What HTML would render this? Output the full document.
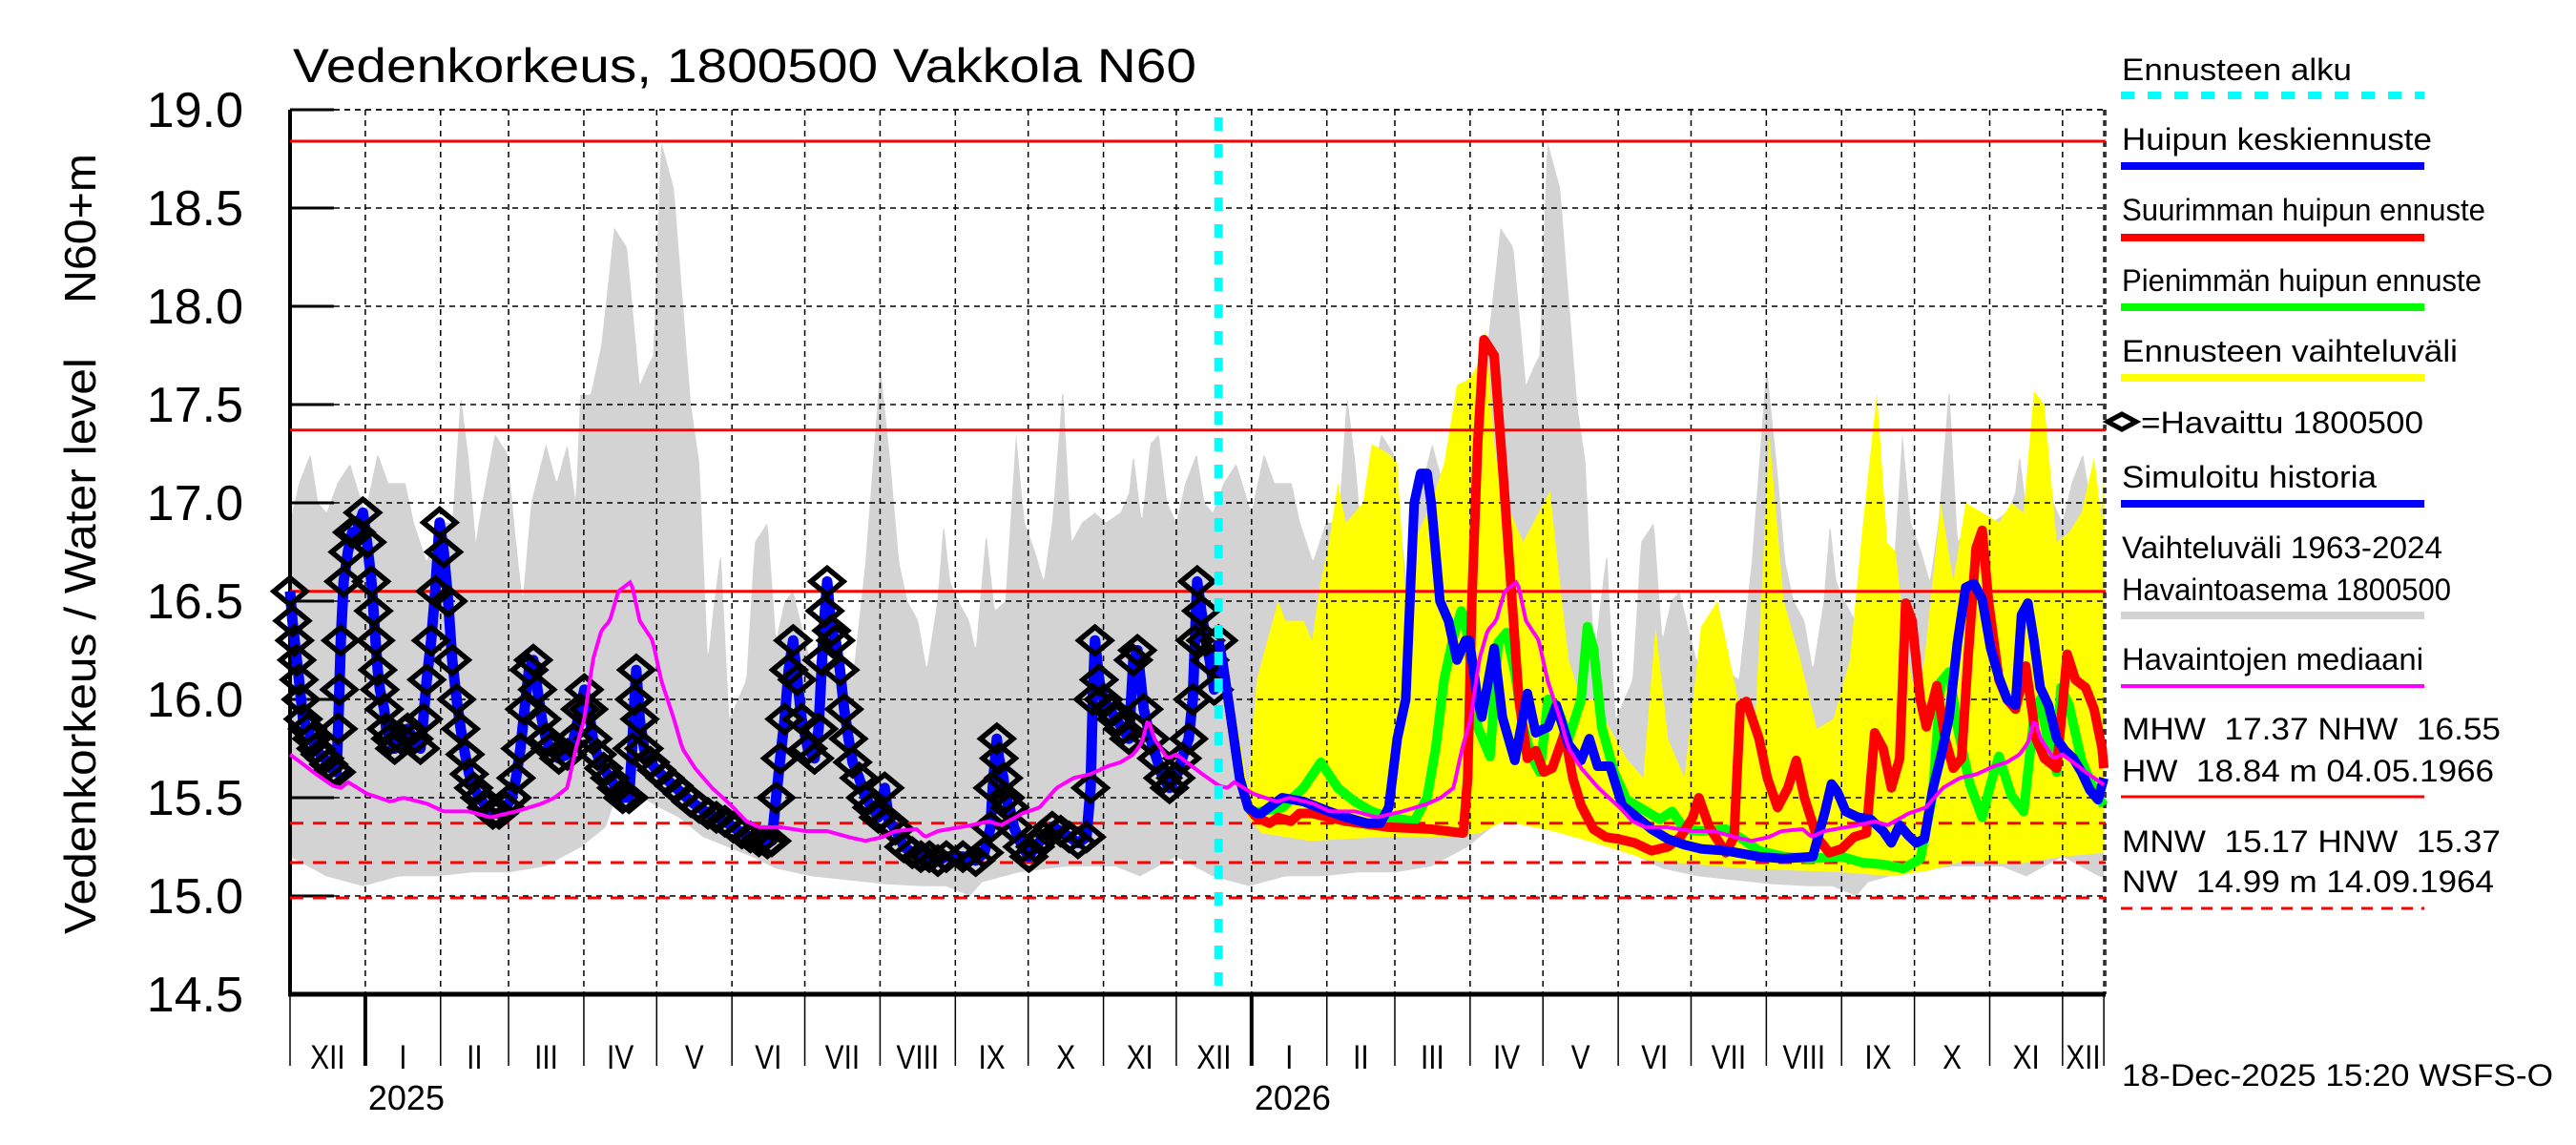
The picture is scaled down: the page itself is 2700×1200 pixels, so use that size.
<!DOCTYPE html>
<html><head><meta charset="utf-8"><style>
html,body{margin:0;padding:0;background:#fff;}
svg{display:block;font-family:"Liberation Sans",Arial,sans-serif;}
</style></head><body>
<svg id="chart" xmlns="http://www.w3.org/2000/svg" width="2700" height="1200" viewBox="0 0 2700 1200">
<rect x="0" y="0" width="2700" height="1200" fill="#fff"/>
<g id="layers"></g>
<text x="307" y="86" font-size="50" textLength="947" lengthAdjust="spacingAndGlyphs">Vedenkorkeus, 1800500 Vakkola N60</text>
<text transform="translate(100,979) rotate(-90)" font-size="46" textLength="604" lengthAdjust="spacingAndGlyphs">Vedenkorkeus / Water level</text>
<text transform="translate(100,318) rotate(-90)" font-size="46" textLength="157" lengthAdjust="spacingAndGlyphs">N60+m</text>
<g id="legend">
<text x="2224" y="84" font-size="32" textLength="241" lengthAdjust="spacingAndGlyphs">Ennusteen alku</text>
<line x1="2223" y1="100" x2="2541" y2="100" stroke="#00ffff" stroke-width="8" stroke-dasharray="14 14"/>
<text x="2224" y="157" font-size="32" textLength="325" lengthAdjust="spacingAndGlyphs">Huipun keskiennuste</text>
<line x1="2223" y1="174" x2="2541" y2="174" stroke="#0000ff" stroke-width="8"/>
<text x="2224" y="231" font-size="32" textLength="381" lengthAdjust="spacingAndGlyphs">Suurimman huipun ennuste</text>
<line x1="2223" y1="249" x2="2541" y2="249" stroke="#ff0000" stroke-width="8"/>
<text x="2224" y="305" font-size="32" textLength="377" lengthAdjust="spacingAndGlyphs">Pienimmän huipun ennuste</text>
<line x1="2223" y1="322" x2="2541" y2="322" stroke="#00ff00" stroke-width="8"/>
<text x="2224" y="379" font-size="32" textLength="352" lengthAdjust="spacingAndGlyphs">Ennusteen vaihteluväli</text>
<line x1="2223" y1="396" x2="2541" y2="396" stroke="#ffff00" stroke-width="8"/>
<polygon points="2209,442 2224,434 2239,442 2224,450" fill="none" stroke="#000" stroke-width="5"/>
<text x="2244" y="454" font-size="32" textLength="296" lengthAdjust="spacingAndGlyphs">=Havaittu 1800500</text>
<text x="2224" y="511" font-size="32" textLength="267" lengthAdjust="spacingAndGlyphs">Simuloitu historia</text>
<line x1="2223" y1="528" x2="2541" y2="528" stroke="#0000ff" stroke-width="8"/>
<text x="2224" y="585" font-size="32" textLength="336" lengthAdjust="spacingAndGlyphs">Vaihteluväli 1963-2024</text>
<text x="2224" y="629" font-size="32" textLength="345" lengthAdjust="spacingAndGlyphs">Havaintoasema 1800500</text>
<line x1="2223" y1="645" x2="2541" y2="645" stroke="#d3d3d3" stroke-width="8"/>
<text x="2224" y="702" font-size="32" textLength="316" lengthAdjust="spacingAndGlyphs">Havaintojen mediaani</text>
<line x1="2223" y1="719" x2="2541" y2="719" stroke="#ff00ff" stroke-width="4"/>
<text x="2224" y="775" font-size="32" textLength="397" lengthAdjust="spacingAndGlyphs" xml:space="preserve">MHW  17.37 NHW  16.55</text>
<text x="2224" y="819" font-size="32" textLength="390" lengthAdjust="spacingAndGlyphs" xml:space="preserve">HW  18.84 m 04.05.1966</text>
<line x1="2223" y1="835" x2="2541" y2="835" stroke="#ff0000" stroke-width="3"/>
<text x="2224" y="893" font-size="32" textLength="397" lengthAdjust="spacingAndGlyphs" xml:space="preserve">MNW  15.17 HNW  15.37</text>
<text x="2224" y="935" font-size="32" textLength="390" lengthAdjust="spacingAndGlyphs" xml:space="preserve">NW  14.99 m 14.09.1964</text>
<line x1="2223" y1="952" x2="2541" y2="952" stroke="#ff0000" stroke-width="3" stroke-dasharray="12 9"/>
</g>
<text x="2224" y="1138" font-size="32" textLength="452" lengthAdjust="spacingAndGlyphs">18-Dec-2025 15:20 WSFS-O</text>
</svg>
<script>
// ---- data (day index: 0 = 1 Dec 2024) ----
const yTicks=[14.5,15.0,15.5,16.0,16.5,17.0,17.5,18.0,18.5,19.0];
const monthStarts=[0,31,62,90,121,151,182,212,243,274,304,335,365,396,427,455,486,516,547,577,608,639,669,700,730,747];
const monthLabels=["XII","I","II","III","IV","V","VI","VII","VIII","IX","X","XI","XII","I","II","III","IV","V","VI","VII","VIII","IX","X","XI","XII"];
const yearLabels=["2025","2026"];
const yearStartDays=[31,396];
const refSolid=[18.84,17.37,16.55];
const refDashed=[15.37,15.17,14.99];
const forecastStartDay=382.4;
// climatology (days since 1 Dec)
const climMaxDay=[0,3.7,8.4,11.6,15.1,19.5,24.7,30.9,36.1,40.5,47.5,51,56.3,61.6,66.8,70.3,73.8,76.5,79.1,84.4,89.6,93.1,95.8,99.3,105.4,109.8,114.2,117.7,119.5,123.8,128.2,133.5,138.8,144,147.5,149.6,152.8,158.1,165.1,168.6,172.1,174.7,177.4,180.9,187.9,191.4,196.7,200.2,203.7,207.2,214.2,221.2,231.7,237,243.1,247.3,250.8,254.3,258.7,262.2,266.6,269.2,271.8,275.3,279.7,282.4,286.7,290.2,294.6,299,302.5,306.9,310.4,313.9,318.3,321.8,326.2,331.5,335.9,342,345.5,347.3,350.8,354.3,357.8,361.3,365];
const climMaxVal=[16.9,17.1,17.25,17.0,16.95,17.1,17.2,16.95,17.25,17.1,17.1,16.9,16.7,16.9,16.9,17.55,17.2,16.8,17.0,17.35,17.25,16.8,16.5,17.0,17.3,17.1,17.3,17.0,17.55,17.55,17.8,18.4,18.3,17.6,17.7,17.75,18.84,18.6,17.5,17.2,16.2,16.5,16.75,15.9,16.1,16.8,16.9,16.3,16.5,16.55,16.2,16.2,16.1,16.7,17.7,17.2,16.7,16.5,16.4,16.15,16.5,16.9,16.6,16.5,16.4,16.25,16.85,16.45,16.5,17.35,16.9,16.75,16.6,16.9,17.6,16.8,16.9,16.95,16.9,16.95,17.05,17.25,16.9,17.3,17.35,17.0,16.9];
const climMinDay=[0,15,30,45,60,75,90,105,120,130,137,145,152,160,170,180,190,200,215,230,245,260,270,280,285,300,320,340,350,365];
const climMinVal=[15.2,15.1,15.05,15.1,15.1,15.12,15.12,15.15,15.25,15.35,15.6,15.5,15.45,15.4,15.3,15.25,15.2,15.14,15.1,15.08,15.06,15.05,15.05,15.0,15.07,15.12,15.15,15.15,15.1,15.2];
const medianDay=[0,5.4,10.7,17.7,21.2,23.8,31.7,41.4,46.6,56.3,63.3,73.8,82.6,93.1,103.7,108.9,114.2,117.7,121.2,124.7,128.2,131.7,135.2,140.5,144,149.3,152.8,158.1,161.6,166.8,173.8,182.6,187.9,193.1,201.9,212.4,221.2,230,237,244,249.3,258,261.6,266.8,280.6,287.6,292.9,301.6,308.7,315.7,322.7,329.7,336.7,342,347.3,350.8,353.4,356,361.3,365];
const medianVal=[15.72,15.67,15.62,15.56,15.55,15.58,15.52,15.48,15.5,15.47,15.43,15.43,15.4,15.43,15.47,15.5,15.55,15.75,15.9,16.2,16.35,16.4,16.55,16.6,16.4,16.3,16.1,15.9,15.75,15.65,15.55,15.45,15.38,15.35,15.35,15.33,15.33,15.3,15.28,15.3,15.33,15.34,15.3,15.33,15.36,15.38,15.36,15.42,15.45,15.55,15.6,15.62,15.66,15.68,15.72,15.78,15.9,15.8,15.7,15.72];
// observations
const obsDay=[0,1,1.9,2.8,3.7,4.5,5.4,7.2,8.9,10.7,12.4,14.2,15.9,17.7,19.1,19.8,20.3,20.9,22.1,23.8,25.6,27.3,30,31.7,33.5,34.4,35.2,36.1,37,38.8,39.6,41.4,43.1,45.8,48.4,51,53.7,54.9,56.3,58.1,59.8,61.6,63.3,65.1,66.8,68.6,70.3,72.1,73.8,75.6,78.2,80.9,83.5,86.1,88.8,91.4,93.1,94.9,96.6,98.4,100.2,101.9,103.7,105.4,107.2,110.7,114.2,116.8,119.5,121.2,123,124.7,126.5,129.1,131.7,134.4,137,139.6,140.9,141.9,142.6,144,145.8,148.4,151,154.5,158.1,161.6,165.1,168.6,172.1,175.6,179.1,182.6,186.1,189.6,193.1,196.6,198.4,200.2,201.9,203.7,205.4,207.2,208.9,210.7,213.3,216,217.7,219.1,220.3,221.2,223,224.7,226.5,228.2,230,231.7,234.4,237,239.6,242.3,244.9,246.6,249.3,252.8,256.3,259.8,263.3,266.8,270.3,277.1,282.4,285.9,288.5,289.4,291.1,292,293.8,294.6,296.4,298.1,301.6,304.3,306.9,310.4,313.9,317.4,320.9,324.5,328,329.7,330.6,331.5,333.2,335,337.6,340.2,342.9,345.5,347.3,349,351.6,354.3,356.9,359.5,362.2,364.8,367.4,370.1,371.8,372.7,373.6,375.3,377.1,378.8,380.6,382.4];
const obsVal=[16.55,16.4,16.3,16.2,16.1,16.0,15.9,15.85,15.8,15.75,15.72,15.7,15.67,15.64,15.63,15.85,16.05,16.3,16.6,16.75,16.85,16.85,16.95,16.8,16.6,16.45,16.3,16.15,16.05,15.95,15.85,15.8,15.75,15.8,15.85,15.8,15.75,15.9,16.1,16.3,16.55,16.9,16.75,16.5,16.2,16.0,15.85,15.72,15.62,15.55,15.5,15.45,15.42,15.42,15.45,15.5,15.6,15.75,15.95,16.15,16.2,16.05,15.9,15.8,15.75,15.7,15.72,15.8,15.95,16.05,15.95,15.8,15.72,15.65,15.6,15.55,15.5,15.5,15.75,16.0,16.15,15.9,15.75,15.68,15.64,15.6,15.56,15.52,15.48,15.45,15.42,15.4,15.38,15.35,15.32,15.3,15.28,15.27,15.28,15.5,15.7,15.9,16.15,16.3,16.1,15.9,15.75,15.7,15.85,16.2,16.45,16.6,16.35,16.3,16.15,15.95,15.8,15.68,15.6,15.5,15.45,15.4,15.55,15.38,15.34,15.25,15.22,15.2,15.2,15.18,15.2,15.2,15.18,15.22,15.35,15.55,15.8,15.7,15.6,15.5,15.45,15.35,15.25,15.2,15.25,15.3,15.35,15.33,15.3,15.27,15.3,15.55,16.0,16.3,16.1,16.0,15.95,15.9,15.85,15.8,16.2,16.25,15.95,15.8,15.7,15.6,15.55,15.6,15.7,15.8,16.0,16.3,16.6,16.45,16.3,16.2,16.05,16.3];
// forecasts
const fcMeanDay=[382.4,384,387.6,391.1,394.6,398.1,399.9,408.6,417.4,427.9,434.9,443.7,449,452.5,456,459.5,461.2,463,465.6,468.3,470,473.6,477.1,480.6,484.1,485.7,489.1,490.8,495.9,499.3,504.4,509.6,513,518.1,521.5,526.6,531.7,535.1,538.5,543.6,548.7,553.8,560.7,567.5,574.3,581.1,591.3,605,615.2,627.1,632.2,634.8,637.3,640.7,645.8,651,656.1,659.5,662.9,666.3,669.7,673.1,676.5,679.9,683.3,686.7,690.1,693.5,696.9,700.4,703.8,707.2,710.6,713.1,715.7,718.2,720.8,724.2,727.6,731,734.4,737.8,741.2,744.6,747];
const fcMeanVal=[16.3,16.2,15.9,15.6,15.45,15.42,15.42,15.5,15.48,15.43,15.4,15.37,15.37,15.45,15.8,16.0,16.5,17.0,17.15,17.15,17.0,16.5,16.4,16.2,16.3,16.3,16.0,15.91,16.26,15.91,15.69,16.03,15.83,15.86,15.97,15.77,15.69,15.8,15.66,15.66,15.46,15.41,15.34,15.29,15.26,15.24,15.23,15.2,15.19,15.2,15.43,15.57,15.53,15.43,15.4,15.39,15.33,15.27,15.36,15.31,15.27,15.29,15.54,15.71,15.91,16.29,16.57,16.59,16.51,16.26,16.11,16.0,15.97,16.43,16.49,16.3,16.06,15.97,15.8,15.74,15.7,15.63,15.54,15.49,15.6];
const fcMaxDay=[382.4,384,387.6,391.1,394.6,398.1,403.4,406.9,412.2,415.7,420.9,427.9,434.9,452.5,470,483.2,485,486.7,489.1,491.7,495.9,499.3,502.7,506.1,509.6,513,516.4,519.8,524.9,528.3,531.7,536.8,541.9,547,553.8,560.7,567.5,572.6,577.7,580.2,584.5,591.3,594.7,597.3,599.8,605,608.4,612.6,616.9,620.3,623.7,628.8,633.9,639,644.1,649.2,652.6,656.1,659.5,662.9,665.4,668,671.4,673.9,678.2,681.6,685,688.4,691,694.4,696.9,699.5,703.8,707.2,710.6,714.8,719.1,722.5,727.6,730.2,731.9,735.3,739.5,743,746.3,747];
const fcMaxVal=[16.3,16.2,15.9,15.6,15.45,15.4,15.37,15.4,15.38,15.42,15.42,15.4,15.38,15.35,15.34,15.32,15.6,16.5,17.3,17.83,17.75,17.2,16.6,16.0,15.7,15.74,15.63,15.65,15.83,15.6,15.46,15.34,15.3,15.29,15.27,15.23,15.25,15.3,15.4,15.5,15.35,15.22,15.3,15.97,15.99,15.8,15.6,15.45,15.55,15.69,15.5,15.3,15.22,15.24,15.3,15.32,15.83,15.75,15.55,15.7,16.49,16.4,16.0,15.86,16.07,15.8,15.65,15.7,16.2,16.77,16.86,16.5,16.1,16.0,15.95,16.17,15.8,15.7,15.65,16.0,16.23,16.1,16.06,15.95,15.75,15.65];
const fcMinDay=[382.4,384,387.6,391.1,394.6,398.1,399.9,408.6,417.4,424.5,431.5,438.5,445.5,452.5,463,468.3,471.8,475.3,478.8,482.3,484.1,489.1,494.2,497.6,501,504.4,507.8,511.3,514.7,518.1,521.5,526.6,531.7,534.3,536.8,540.2,545.3,550.4,557.3,564.1,569.2,574.3,581.1,591.3,598.1,605,615.2,625.4,639,647.5,656.1,664.6,671.4,676.5,679.9,683.3,686.7,691.8,696.9,700.4,703.8,708.9,714,718.2,720.8,724.2,727.6,729.3,732.7,737.8,743,747];
const fcMinVal=[16.3,16.2,15.9,15.6,15.45,15.42,15.43,15.45,15.55,15.68,15.55,15.48,15.43,15.4,15.38,15.5,15.75,16.1,16.3,16.45,16.4,15.86,15.71,16.29,16.34,16.14,15.86,15.71,15.63,16.0,15.97,15.8,16.0,16.37,16.26,15.86,15.63,15.49,15.44,15.39,15.43,15.34,15.33,15.34,15.29,15.23,15.2,15.19,15.2,15.17,15.16,15.14,15.19,15.51,16.09,16.14,15.86,15.57,15.4,15.57,15.71,15.51,15.43,15.91,16.0,15.77,15.63,16.06,15.97,15.69,15.54,15.46];
const bandTopDay=[382.4,384,394.6,398.1,406.9,410,417.4,420.9,424.5,427.9,431.5,434.9,441.9,445.5,452.5,456,459.5,463,470,475.3,480.6,485.7,489,492.5,495.9,499.3,502.7,507.8,518.9,523.2,526.6,531.7,536.8,543.6,550.4,557.3,562.4,567.5,574.3,581.1,587.9,596.4,603.3,609.2,615.2,622,628.8,635.6,642.4,647.5,653.5,657.8,661.2,666.3,669.7,673.1,679.9,685,690.1,696.9,703.8,708.9,714,718.2,722.5,727.6,732.7,737.8,743,746.3,747];
const bandTopVal=[16.3,16.3,15.55,16.1,16.5,16.4,16.4,16.3,16.6,16.8,17.1,16.9,17.0,17.3,17.25,17.2,16.5,16.8,17.0,17.2,17.6,17.63,17.7,17.88,17.3,17.0,16.95,16.8,17.06,16.57,16.2,16.0,16.0,15.85,15.7,15.6,16.37,15.8,15.6,16.37,16.5,16.0,15.85,17.34,16.5,16.2,15.85,15.9,16.2,16.86,17.56,16.8,16.75,16.2,16.0,16.2,17.0,16.6,17.0,16.95,16.9,17.0,16.95,17.57,17.5,16.8,16.85,16.95,17.23,16.9,17.2];
const bandBotDay=[382.4,384,394.6,400,420,450,480,490,500,520,540,560,600,640,660,675,690,710,730,747];
const bandBotVal=[16.3,16.2,15.4,15.32,15.28,15.3,15.3,15.32,15.38,15.33,15.26,15.18,15.14,15.12,15.1,15.13,15.18,15.16,15.2,15.22];

// ---- scales ----
const X0=304, PXD=2.545, Y0=115, PXM=206, XEND=2207, YBOT=1042;
function xS(d){return X0+d*PXD;}
function yS(v){return Y0+(19-v)*PXM;}
function interp(ds,vs,d){
  if(d<=ds[0])return vs[0];
  for(let i=1;i<ds.length;i++){if(d<=ds[i]){const t=(d-ds[i-1])/(ds[i]-ds[i-1]);return vs[i-1]+t*(vs[i]-vs[i-1]);}}
  return vs[vs.length-1];
}
const NS="http://www.w3.org/2000/svg";
const layerRoot=document.getElementById('layers');
function mk(tag,attrs,parent){const e=document.createElementNS(NS,tag);for(const k in attrs)e.setAttribute(k,attrs[k]);(parent||layerRoot).appendChild(e);return e;}
function pts(ds,vs){return ds.map((d,i)=>xS(d).toFixed(1)+','+yS(vs[i]).toFixed(1)).join(' ');}

// historic range band (climatology across both years)
const lastDay=monthStarts[monthStarts.length-1];
const topPts=[],botPts=[];
for(let d=0;d<=lastDay;d+=0.5){const c=d%365;topPts.push(xS(d).toFixed(1)+','+yS(interp(climMaxDay,climMaxVal,c)).toFixed(1));botPts.push(xS(d).toFixed(1)+','+yS(interp(climMinDay,climMinVal,c)).toFixed(1));}
const greyBand=mk('polygon',{points:topPts.concat(botPts.slice().reverse()).join(' '),fill:'#d3d3d3'});



// forecast range band
const btPts=bandTopDay.map((d,i)=>xS(d).toFixed(1)+','+yS(bandTopVal[i]).toFixed(1));
const bbPts=bandBotDay.map((d,i)=>xS(d).toFixed(1)+','+yS(bandBotVal[i]).toFixed(1)).reverse();
const yellowBand=mk('polygon',{points:btPts.concat(bbPts).join(' '),fill:'#ffff00'});



// grid
const gridG=mk('g',{});


yTicks.forEach(v=>{
  if(v>14.5){const gh=mk('line',{x1:350,x2:XEND,y1:yS(v),y2:yS(v),stroke:'#000','stroke-width':1.5,'stroke-dasharray':'6 5'},gridG);
  
  }
  const tk=mk('line',{x1:X0,x2:350,y1:yS(v),y2:yS(v),stroke:'#000','stroke-width':3});
  
  
  const lb=mk('text',{x:255,y:yS(v)+18,'font-size':52,'text-anchor':'end'});
  lb.textContent=v.toFixed(1);
  
  
});
monthStarts.forEach((d,i)=>{
  if(i>0){const gv=mk('line',{x1:xS(d),x2:xS(d),y1:Y0,y2:YBOT,stroke:'#000','stroke-width':1.5,'stroke-dasharray':'6 5'},gridG);
  
  }
  const isYear=yearStartDays.indexOf(d)>=0;
  const tk=mk('line',{x1:xS(d),x2:xS(d),y1:YBOT,y2:1117,stroke:'#000','stroke-width':isYear?4:1.5});
  
  
  if(i<monthLabels.length){
    const mid=(xS(d)+xS(monthStarts[i+1]))/2;
    const lb=mk('text',{x:mid,y:1120,'font-size':35,'text-anchor':'middle',transform:'translate('+mid+',0) scale(0.85,1) translate('+(-mid)+',0)'});
    lb.textContent=monthLabels[i];
    
    
  }
});
yearLabels.forEach((t,i)=>{
  const lb=mk('text',{x:xS(yearStartDays[i])+3,y:1163,'font-size':36});
  lb.textContent=t;
  
  
});
// frame
const fl=mk('line',{x1:X0,x2:X0,y1:Y0,y2:YBOT+2,stroke:'#000','stroke-width':4});


const fb=mk('line',{x1:X0-2,x2:XEND,y1:YBOT,y2:YBOT,stroke:'#000','stroke-width':5});


const fr=mk('line',{x1:XEND,x2:XEND,y1:Y0,y2:YBOT,stroke:'#000','stroke-width':1.5,'stroke-dasharray':'6 5'});


const ft=mk('line',{x1:350,x2:XEND,y1:Y0,y2:Y0,stroke:'#000','stroke-width':1.5,'stroke-dasharray':'6 5'});



// reference lines
refSolid.forEach(v=>{
  const l=mk('line',{x1:X0,x2:XEND,y1:yS(v),y2:yS(v),stroke:'#ff0000','stroke-width':3});
  
  
});
refDashed.forEach(v=>{
  const l=mk('line',{x1:X0,x2:XEND,y1:yS(v),y2:yS(v),stroke:'#ff0000','stroke-width':3,'stroke-dasharray':'14 10'});
  
  
});

// simulated history
const simLine=mk('polyline',{points:pts(obsDay,obsVal),fill:'none',stroke:'#0000ff','stroke-width':11,'stroke-linejoin':'round'});


// observed diamonds
const obsG=mk('g',{});


obsDay.forEach((d,i)=>{
  const cx=xS(d),cy=yS(obsVal[i]);
  const p=mk('polygon',{points:(cx-17)+','+cy+' '+cx+','+(cy-14)+' '+(cx+17)+','+cy+' '+cx+','+(cy+14),fill:'none',stroke:'#000','stroke-width':5.5},obsG);
  
  
});
// forecasts
const greenLine=mk('polyline',{points:pts(fcMinDay,fcMinVal),fill:'none',stroke:'#00ff00','stroke-width':10,'stroke-linejoin':'round'});


const redLine=mk('polyline',{points:pts(fcMaxDay,fcMaxVal),fill:'none',stroke:'#ff0000','stroke-width':10,'stroke-linejoin':'round'});


const blueLine=mk('polyline',{points:pts(fcMeanDay,fcMeanVal),fill:'none',stroke:'#0000ff','stroke-width':10,'stroke-linejoin':'round'});


// median
const medPts=[];
for(let d=0;d<=lastDay;d+=1){medPts.push(xS(d).toFixed(1)+','+yS(interp(medianDay,medianVal,d%365)).toFixed(1));}
const medLine=mk('polyline',{points:medPts.join(' '),fill:'none',stroke:'#ff00ff','stroke-width':4});


// forecast start
const cyanLine=mk('line',{x1:xS(forecastStartDay),x2:xS(forecastStartDay),y1:Y0+8,y2:YBOT,stroke:'#00ffff','stroke-width':9,'stroke-dasharray':'14 14'});


</script>
</body></html>
